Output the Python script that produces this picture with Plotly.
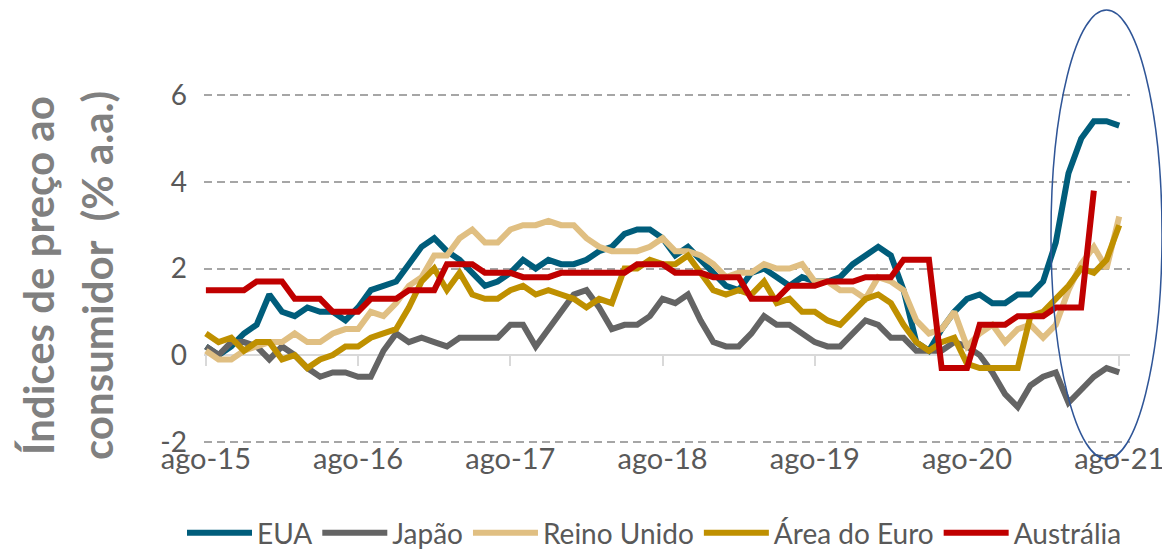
import plotly.graph_objects as go

# month index 0 = ago-15 ... 72 = ago-21
months = list(range(73))
tick_pos = [0, 12, 24, 36, 48, 60, 72]
tick_labels = ["ago-15", "ago-16", "ago-17", "ago-18", "ago-19", "ago-20", "ago-21"]
y_ticks = [-2, 0, 2, 4, 6]
y_tick_labels = ["-2", "0", "2", "4", "6"]

eua = [0.2, 0.0, 0.2, 0.5, 0.7, 1.4, 1.0, 0.9, 1.1, 1.0, 1.0, 0.8,
       1.1, 1.5, 1.6, 1.7, 2.1, 2.5, 2.7, 2.4, 2.2, 1.9, 1.6, 1.7,
       1.9, 2.2, 2.0, 2.2, 2.1, 2.1, 2.2, 2.4, 2.5, 2.8, 2.9, 2.9,
       2.7, 2.3, 2.5, 2.2, 1.9, 1.6, 1.5, 1.9, 2.0, 1.8, 1.6, 1.8,
       1.7, 1.7, 1.8, 2.1, 2.3, 2.5, 2.3, 1.5, 0.3, 0.1, 0.6, 1.0,
       1.3, 1.4, 1.2, 1.2, 1.4, 1.4, 1.7, 2.6, 4.2, 5.0, 5.4, 5.4,
       5.3]
japao = [0.2, 0.0, 0.3, 0.3, 0.2, -0.1, 0.2, 0.0, -0.3, -0.5, -0.4, -0.4,
         -0.5, -0.5, 0.1, 0.5, 0.3, 0.4, 0.3, 0.2, 0.4, 0.4, 0.4, 0.4,
         0.7, 0.7, 0.2, 0.6, 1.0, 1.4, 1.5, 1.1, 0.6, 0.7, 0.7, 0.9,
         1.3, 1.2, 1.4, 0.8, 0.3, 0.2, 0.2, 0.5, 0.9, 0.7, 0.7, 0.5,
         0.3, 0.2, 0.2, 0.5, 0.8, 0.7, 0.4, 0.4, 0.1, 0.1, 0.1, 0.3,
         0.2, 0.0, -0.4, -0.9, -1.2, -0.7, -0.5, -0.4, -1.1, -0.8, -0.5, -0.3,
         -0.4]
reino_unido = [0.1, -0.1, -0.1, 0.1, 0.2, 0.3, 0.3, 0.5, 0.3, 0.3, 0.5, 0.6,
               0.6, 1.0, 0.9, 1.2, 1.6, 1.8, 2.3, 2.3, 2.7, 2.9, 2.6, 2.6,
               2.9, 3.0, 3.0, 3.1, 3.0, 3.0, 2.7, 2.5, 2.4, 2.4, 2.4, 2.5,
               2.7, 2.4, 2.4, 2.3, 2.1, 1.8, 1.9, 1.9, 2.1, 2.0, 2.0, 2.1,
               1.7, 1.7, 1.5, 1.5, 1.3, 1.8, 1.7, 1.5, 0.8, 0.5, 0.6, 1.0,
               0.2, 0.5, 0.7, 0.3, 0.6, 0.7, 0.4, 0.7, 1.5, 2.1, 2.5, 2.0,
               3.2]
area_euro = [0.5, 0.3, 0.4, 0.1, 0.3, 0.3, -0.1, 0.0, -0.3, -0.1, 0.0, 0.2,
             0.2, 0.4, 0.5, 0.6, 1.1, 1.7, 2.0, 1.5, 1.9, 1.4, 1.3, 1.3,
             1.5, 1.6, 1.4, 1.5, 1.4, 1.3, 1.1, 1.3, 1.2, 2.0, 2.0, 2.2,
             2.1, 2.1, 2.3, 1.9, 1.5, 1.4, 1.5, 1.4, 1.7, 1.2, 1.3, 1.0,
             1.0, 0.8, 0.7, 1.0, 1.3, 1.4, 1.2, 0.7, 0.3, 0.1, 0.3, 0.4,
             -0.2, -0.3, -0.3, -0.3, -0.3, 0.9, 1.0, 1.3, 1.6, 2.0, 1.9, 2.2,
             3.0]
australia = ([1.5] * 4 + [1.7] * 3 + [1.3] * 3 + [1.0] * 3 + [1.3] * 3 + [1.5] * 3 +
             [2.1] * 3 + [1.9] * 3 + [1.8] * 3 + [1.9] * 3 + [1.9] * 3 + [2.1] * 3 +
             [1.9] * 3 + [1.8] * 3 + [1.3] * 3 + [1.6] * 3 + [1.7] * 3 + [1.8] * 3 +
             [2.2] * 3 + [-0.3] * 3 + [0.7] * 3 + [0.9] * 3 + [1.1] * 3 + [3.8])

series_names = ["EUA", "Japão", "Reino Unido", "Área do Euro", "Austrália"]
series_values = [eua, japao, reino_unido, area_euro, australia]
series_colors = ["#005D7B", "#646464", "#E0BF82", "#BF9000", "#C00000"]

FONT = "Lato"
xr = [-0.15, 72.85]
yr = [-2.03, 6.03]

# the page body has an 8px margin, so the figure is drawn 8px in from the corner
OFF = 8
W, H = 1170 - OFF, 557 - OFF
L, R, T, B = 196, 40, 86, 114
pw, ph = W - L - R, H - T - B
plot_bottom = H - B


def px_x(screen_px):
    return (screen_px - OFF - L) / pw


def px_y(screen_py):
    return (plot_bottom - (screen_py - OFF)) / ph


fig = go.Figure()
for name, vals, col in zip(series_names, series_values, series_colors):
    fig.add_trace(go.Scatter(x=months[:len(vals)], y=vals, name=name, mode="lines",
                             line=dict(color=col, width=6)))

# helper trace for the zero axis line with tick marks
fig.add_trace(go.Scatter(x=[0], y=[None], xaxis="x2", showlegend=False,
                         hoverinfo="skip", mode="lines"))

fig.update_layout(
    width=W, height=H,
    margin=dict(l=L, r=R, t=T, b=B, autoexpand=False),
    paper_bgcolor="white", plot_bgcolor="white",
    font=dict(family=FONT, color="#595959"),
    xaxis=dict(range=xr, tickvals=tick_pos, ticktext=tick_labels, automargin=False,
               showgrid=False, zeroline=False, showline=False, ticks="",
               tickfont=dict(size=29, color="#595959"), ticklabelstandoff=-4),
    xaxis2=dict(range=xr, overlaying="x", anchor="free",
                position=(0 - yr[0]) / (yr[1] - yr[0]), automargin=False,
                showline=True, linecolor="#D9D9D9", linewidth=2,
                ticks="outside", ticklen=10, tickwidth=2, tickcolor="#D9D9D9",
                tickvals=tick_pos, showticklabels=False, showgrid=False,
                zeroline=False, layer="below traces"),
    yaxis=dict(range=yr, tickvals=y_ticks, ticktext=y_tick_labels, automargin=False,
               showgrid=True, gridcolor="#A6A6A6", gridwidth=1.5,
               griddash="8px,5px", zeroline=False, showline=False,
               tickfont=dict(size=28, color="#595959"), ticklabelstandoff=16),
    legend=dict(orientation="h", x=px_x(182), xanchor="left", y=px_y(533),
                yanchor="middle", font=dict(size=28, color="#595959"),
                itemwidth=65, bgcolor="rgba(0,0,0,0)"),
    showlegend=True,
)

fig.add_annotation(text="Índices de preço ao", textangle=-90, xref="paper", yref="paper",
                   x=px_x(38), y=px_y(276), xanchor="center", yanchor="middle",
                   showarrow=False, font=dict(family=FONT, size=42, color="#808080", weight="bold"))
fig.add_annotation(text="consumidor  (% a.a.)", textangle=-90, xref="paper", yref="paper",
                   x=px_x(97), y=px_y(276), xanchor="center", yanchor="middle",
                   showarrow=False, font=dict(family=FONT, size=42, color="#808080", weight="bold"))

fig.add_shape(type="circle", xref="paper", yref="paper",
              x0=px_x(1051), x1=px_x(1162), y0=px_y(459), y1=px_y(10),
              line=dict(color="#2F5597", width=1.5), layer="above")

fig.write_html("out.html")
